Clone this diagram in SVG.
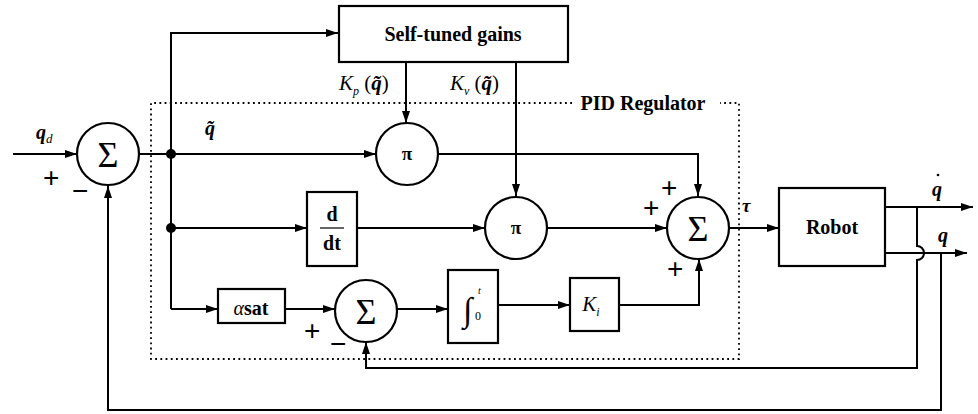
<svg xmlns="http://www.w3.org/2000/svg" width="978" height="414" viewBox="0 0 978 414">
<style>
.ln{fill:none;stroke:#000;stroke-width:2}
.bx{fill:#fff;stroke:#000;stroke-width:2.2}
.dot{fill:none;stroke:#000;stroke-width:1.8;stroke-dasharray:1.8 3.4}
.t{font-family:"Liberation Serif","DejaVu Serif",serif;fill:#000}
.b{font-weight:bold}
.i{font-style:italic}
.sig{font-family:"Liberation Serif","DejaVu Serif",serif;font-size:36px;text-anchor:middle}
.op{font-family:"Liberation Sans","DejaVu Sans",sans-serif;font-size:28px}
</style>
<defs>
<marker id="ah" viewBox="0 0 12 8" refX="12" refY="4" markerWidth="12" markerHeight="8" markerUnits="userSpaceOnUse" orient="auto">
<path d="M0,0 L12,4 L0,8 Z" fill="#000"/>
</marker>
</defs>
<rect width="978" height="414" fill="#fff"/>

<g id="pid-frame">
<path class="dot" d="M572,103 H151 V359 H739 V103 H720"/>
<text class="t b" x="643" y="110" font-size="20" text-anchor="middle">PID Regulator</text>
</g>

<g id="connectors">
<line class="ln" x1="13" y1="154" x2="77" y2="154" marker-end="url(#ah)"/>
<line class="ln" x1="139" y1="154" x2="376" y2="154" marker-end="url(#ah)"/>
<polyline class="ln" points="171,309 171,33 338,33" marker-end="url(#ah)"/>
<line class="ln" x1="406" y1="63" x2="406" y2="123" marker-end="url(#ah)"/>
<line class="ln" x1="516" y1="63" x2="516" y2="196" marker-end="url(#ah)"/>
<polyline class="ln" points="438,154 698,154 698,196" marker-end="url(#ah)"/>
<line class="ln" x1="171" y1="228" x2="307" y2="228" marker-end="url(#ah)"/>
<line class="ln" x1="357" y1="228" x2="485" y2="228" marker-end="url(#ah)"/>
<line class="ln" x1="547" y1="228" x2="667" y2="228" marker-end="url(#ah)"/>
<line class="ln" x1="729" y1="228" x2="779" y2="228" marker-end="url(#ah)"/>
<polyline class="ln" points="171,309 218,309" marker-end="url(#ah)"/>
<line class="ln" x1="285" y1="309" x2="335" y2="309" marker-end="url(#ah)"/>
<line class="ln" x1="397" y1="309" x2="448" y2="309" marker-end="url(#ah)"/>
<line class="ln" x1="498" y1="305" x2="570" y2="305" marker-end="url(#ah)"/>
<polyline class="ln" points="619,305 699,305 699,259" marker-end="url(#ah)"/>
<line class="ln" x1="885" y1="207" x2="973" y2="207" marker-end="url(#ah)"/>
<line class="ln" x1="885" y1="253" x2="967" y2="253" marker-end="url(#ah)"/>
<path class="ln" d="M917,207 V246 A7,7 0 0 1 917,260 V368 H366 V342" marker-end="url(#ah)"/>
<path class="ln" d="M941,253 V410 H108 V186" marker-end="url(#ah)"/>
<circle cx="171" cy="154" r="5" fill="#000"/>
<circle cx="171" cy="228" r="5" fill="#000"/>
</g>

<g id="sum1">
<circle class="bx" cx="108" cy="154" r="31"/>
<text class="sig" x="108" y="167">Σ</text>
<text class="op" x="43" y="187">+</text>
<text class="op" x="72" y="200">−</text>
</g>

<g id="self-tuned">
<rect class="bx" x="339" y="6" width="229" height="56"/>
<text class="t b" x="453" y="41" font-size="20" text-anchor="middle">Self-tuned gains</text>
</g>

<g id="pi1">
<circle class="bx" cx="407" cy="154" r="31"/>
<text class="t b" x="407" y="160" font-size="19" text-anchor="middle">π</text>
</g>

<g id="ddt">
<rect class="bx" x="307" y="192" width="50" height="74"/>
<text class="t b" x="332" y="221" font-size="20" text-anchor="middle">d</text>
<line x1="320" y1="228" x2="344" y2="228" stroke="#000" stroke-width="1.2"/>
<text class="t b" x="332" y="250" font-size="20" text-anchor="middle">dt</text>
</g>

<g id="pi2">
<circle class="bx" cx="516" cy="228" r="31"/>
<text class="t b" x="516" y="234" font-size="19" text-anchor="middle">π</text>
</g>

<g id="sum2">
<circle class="bx" cx="698" cy="228" r="31"/>
<text class="sig" x="698" y="241">Σ</text>
<text class="op" x="661" y="197">+</text>
<text class="op" x="643" y="217">+</text>
<text class="op" x="667" y="278">+</text>
</g>

<g id="robot">
<rect class="bx" x="779" y="188" width="106" height="78"/>
<text class="t b" x="832" y="234" font-size="20" text-anchor="middle">Robot</text>
</g>

<g id="asat">
<rect class="bx" x="218" y="289" width="67" height="34"/>
<text class="t" x="251" y="315" font-size="20" text-anchor="middle"><tspan class="i">α</tspan><tspan class="b">sat</tspan></text>
</g>

<g id="sum3">
<circle class="bx" cx="366" cy="311" r="31"/>
<text class="sig" x="366" y="324">Σ</text>
<text class="op" x="304" y="340">+</text>
<text class="op" x="330" y="353">−</text>
</g>

<g id="integral">
<rect class="bx" x="448" y="270" width="50" height="73"/>
<text class="t" x="463" y="321" font-size="34">∫</text>
<text class="t i" x="478" y="294" font-size="10">t</text>
<text class="t" x="475" y="320" font-size="12">0</text>
</g>

<g id="ki">
<rect class="bx" x="570" y="278" width="49" height="53"/>
<text class="t i" x="591" y="311" font-size="21" text-anchor="middle">K<tspan font-size="12" dy="5">i</tspan></text>
</g>

<g id="labels">
<text class="t b i" x="36" y="139" font-size="20">q<tspan class="i" font-weight="normal" font-size="13" dy="4">d</tspan></text>
<text class="t b i" x="205" y="135" font-size="20">q̃</text>
<text class="t" x="339" y="90" font-size="21"><tspan class="i">K</tspan><tspan class="i" font-size="12" dy="5">p</tspan><tspan dy="-5"> (</tspan><tspan class="b i">q̃</tspan>)</text>
<text class="t" x="450" y="90" font-size="21"><tspan class="i">K</tspan><tspan class="i" font-size="12" dy="5">v</tspan><tspan dy="-5"> (</tspan><tspan class="b i">q̃</tspan>)</text>
<text class="t b i" x="742" y="212" font-size="19">τ</text>
<text class="t b i" x="932" y="196" font-size="20">q</text>
<circle cx="938" cy="175" r="1.3" fill="#000"/>
<text class="t b i" x="938" y="242" font-size="20">q</text>
</g>
</svg>
